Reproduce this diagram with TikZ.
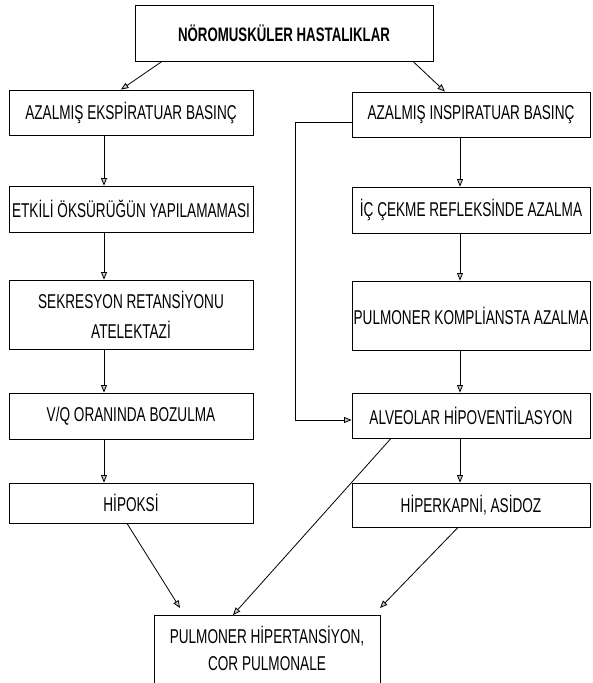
\documentclass[tikz,border=0pt]{standalone}
\usepackage{fontspec}
\setmainfont{Liberation Sans}[FakeStretch=0.68]
\usetikzlibrary{arrows.meta}
\begin{document}
\begin{tikzpicture}[x=1pt,y=-1pt,
  box/.style={draw, line width=0.8pt, inner sep=0pt, align=center,
    font=\fontsize{20}{30}\selectfont},
  lbox/.style={box, minimum width=244pt},
  rbox/.style={box, minimum width=238pt},
  txt/.style={inner sep=0pt, align=center, font=\fontsize{20}{27}\selectfont},
  arr/.style={line width=0.8pt, -{Triangle[length=7.5pt,width=6pt,fill=gray!45]}},
  conn/.style={line width=0.8pt}]
\useasboundingbox (0,0) rectangle (592,683);
\clip (0,0) rectangle (592,683);
% boxes
\node[box, minimum width=298pt, minimum height=56pt, font=\fontsize{19.5}{29}\selectfont\bfseries] (top) at (284,33) {NÖROMUSKÜLER HASTALIKLAR};
\node[lbox, minimum height=45pt] (L1) at (131,112.5) {AZALMIŞ EKSPİRATUAR BASINÇ};
\node[rbox, minimum height=45pt] (R1) at (471,114.5) {AZALMIŞ INSPIRATUAR BASINÇ};
\node[lbox, minimum height=46pt] (L2) at (131,209) {ETKİLİ ÖKSÜRÜĞÜN YAPILAMAMASI};
\node[rbox, minimum height=46pt] (R2) at (471,210) {İÇ ÇEKME REFLEKSİNDE AZALMA};
\node[lbox, minimum height=69pt] (L3) at (131,314.5) {SEKRESYON RETANSİYONU\\ATELEKTAZİ};
\node[rbox, minimum height=69pt] (R3) at (471,315.5) {PULMONER KOMPLİANSTA AZALMA};
\node[lbox, minimum height=46pt] (L4) at (131,416) {V/Q ORANINDA BOZULMA};
\node[rbox, minimum height=45pt] (R4) at (471,415.5) {ALVEOLAR HİPOVENTİLASYON};
\node[lbox, minimum height=40pt] (L5) at (131,503) {HİPOKSİ};
\node[rbox, minimum height=44pt] (R5) at (471,505) {HİPERKAPNİ, ASİDOZ};
\node[draw, line width=0.8pt, minimum width=226pt, minimum height=90pt, anchor=north] (PH) at (267,615) {};
\node[txt] (PHt) at (267,648.5) {PULMONER HİPERTANSİYON,\\COR PULMONALE};
% helper coordinates
\coordinate (lx) at (104,0);
\coordinate (rx) at (460,0);
\coordinate (ta) at (162,0);
\coordinate (tb) at (121,0);
\coordinate (tc) at (413,0);
\coordinate (td) at (445,0);
\coordinate (fb1) at (295,122);
\coordinate (fb2) at (295,420);
\coordinate (d1s) at (127,523);
\coordinate (d1e) at (180,608);
\coordinate (d2s) at (391,0);
\coordinate (d2e) at (233,0);
\coordinate (d3s) at (458,0);
\coordinate (d3e) at (380,608);
% connectors
\draw[arr] (top.south -| ta) -- (L1.north -| tb);
\draw[arr] (top.south -| tc) -- (R1.north -| td);
\draw[arr] (L1.south -| lx) -- (L2.north -| lx);
\draw[arr] (L2.south -| lx) -- (L3.north -| lx);
\draw[arr] (L3.south -| lx) -- (L4.north -| lx);
\draw[arr] (L4.south -| lx) -- (L5.north -| lx);
\draw[arr] (R1.south -| rx) -- (R2.north -| rx);
\draw[arr] (R2.south -| rx) -- (R3.north -| rx);
\draw[arr] (R3.south -| rx) -- (R4.north -| rx);
\draw[arr] (R4.south -| rx) -- (R5.north -| rx);
\draw[arr] (R1.west |- fb1) -- (fb1) -- (fb2) -- (R4.west |- fb2);
\draw[arr] (L5.south -| d1s) -- (d1e);
\draw[arr] (R4.south -| d2s) -- (PH.north -| d2e);
\draw[arr] (R5.south -| d3s) -- (d3e);
\end{tikzpicture}
\end{document}
